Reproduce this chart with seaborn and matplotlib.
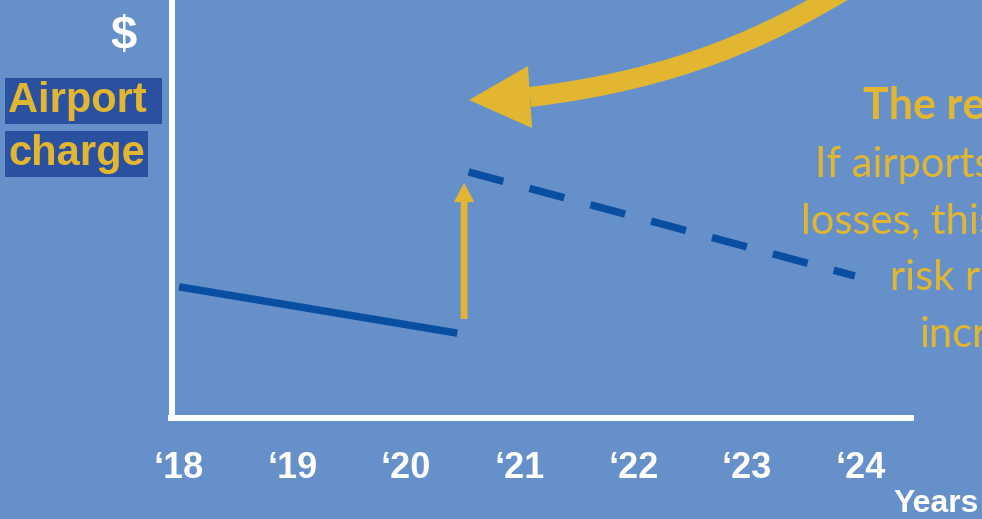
import matplotlib
matplotlib.use("Agg")
import matplotlib.pyplot as plt
import matplotlib.transforms as mtransforms
from matplotlib.path import Path
from matplotlib.patches import PathPatch, Polygon
import pandas as pd
import seaborn as sns

# ---------------- data ----------------
tick_years = [18, 19, 20, 21, 22, 23, 24]
tick_labels = ["‘18", "‘19", "‘20", "‘21", "‘22", "‘23", "‘24"]

actual_years = [18.0, 20.45]
actual_charge = [31.3, 20.2]
forecast_years = [20.55, 23.95]
forecast_charge = [58.8, 33.9]

jump_year = 20.51
jump_from = 23.6
jump_to = 56.2

note_lines = ["The result", "If airports face", "losses, this", "risk rises and", "increases"]

# ---------------- style ----------------
BG = "#6690CA"
DARK = "#0A4EA2"
YELLOW = "#E2B631"
BOX = "#2A51A0"

sns.set_style("white")
plt.rcParams["font.family"] = ["Liberation Sans", "DejaVu Sans"]

W, H = 982, 519
fig = plt.figure(figsize=(W / 100, H / 100), dpi=100, facecolor=BG)
ax = fig.add_axes([171.5 / W, 101.5 / H, (911 - 171.5) / W, 417.5 / H])
ax.set_facecolor("none")

df = pd.DataFrame({
    "year": actual_years + forecast_years,
    "charge": actual_charge + forecast_charge,
    "segment": ["actual"] * len(actual_years) + ["forecast"] * len(forecast_years),
})
sns.lineplot(data=df, x="year", y="charge", style="segment",
             dashes={"actual": "", "forecast": (4.8, 3.6)},
             color=DARK, lw=5.4, legend=False, ax=ax, estimator=None, sort=False)
for ln in ax.lines:
    ln.set_solid_capstyle("butt")
    ln.set_dash_capstyle("butt")

# vertical jump arrow
ax.arrow(jump_year, jump_from, 0, jump_to - jump_from, width=0.06,
         head_width=0.18, head_length=4.6, length_includes_head=True,
         fc=YELLOW, ec="none", zorder=3)

ax.set_xlim(17.934, 24.444)
ax.set_ylim(0, 100)
for s in ["top", "right"]:
    ax.spines[s].set_visible(False)
for s in ["left", "bottom"]:
    ax.spines[s].set_color("white")
    ax.spines[s].set_linewidth(4.3)
ax.set_xticks(tick_years, tick_labels)
ax.set_yticks([])
ax.tick_params(axis="x", length=0, pad=24, labelsize=26, labelcolor="white")
for lbl in ax.get_xticklabels():
    lbl.set_fontweight("bold")
ax.set_xlabel("")
ax.set_ylabel("")

# pixel transform (top-left origin) for annotations
px = mtransforms.Affine2D().scale(1 / W, -1 / H).translate(0, 1) + fig.transFigure

# curved arrow
body = Path([(850, -13), (770, 35), (680, 79), (530, 97)],
            [Path.MOVETO, Path.CURVE4, Path.CURVE4, Path.CURVE4])
fig.add_artist(PathPatch(body, transform=px, fc="none", ec=YELLOW, lw=14.4,
                         capstyle="butt"))
fig.add_artist(Polygon([(469, 100), (528, 66), (532, 128)], closed=True,
                       transform=px, fc=YELLOW, ec="none"))

# texts
fig.text(124, 37, "$", transform=px, ha="center", va="center", color="white",
         fontsize=34, fontweight="bold")
fig.text(8, 112, "Airport ", transform=px, ha="left", va="baseline",
         fontsize=30, fontweight="bold", color=YELLOW,
         bbox=dict(boxstyle="square,pad=0.08", fc=BOX, ec="none"))
fig.text(8, 165, "charge", transform=px, ha="left", va="baseline",
         fontsize=30, fontweight="bold", color=YELLOW,
         bbox=dict(boxstyle="square,pad=0.08", fc=BOX, ec="none"))
fig.text(893, 512, "Years", transform=px, ha="left", va="baseline",
         fontsize=23, fontweight="bold", color="white")

note_x = [863, 815, 801, 890, 920]
note_y = [119, 177, 233, 290, 347]
for i, (txt, x, y) in enumerate(zip(note_lines, note_x, note_y)):
    fig.text(x, y, txt, transform=px, ha="left", va="baseline",
             fontsize=31 if i == 0 else 30, fontweight="bold" if i == 0 else "normal",
             color=YELLOW, family=["Lato", "DejaVu Sans"])

fig.savefig("out.png", dpi=100, facecolor=BG)
